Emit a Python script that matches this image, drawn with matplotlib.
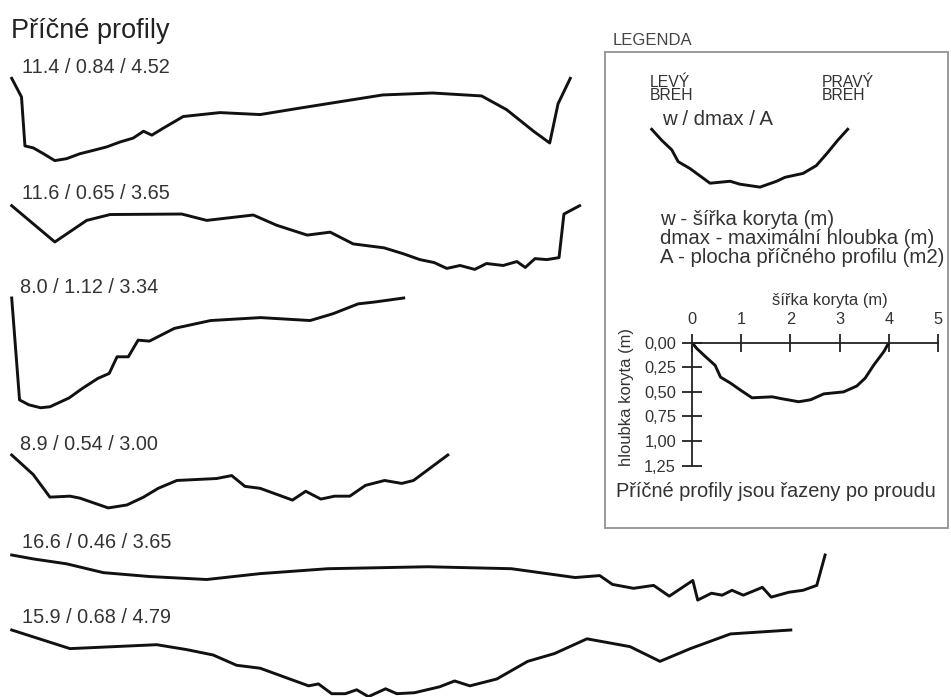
import matplotlib
matplotlib.use("Agg")
import matplotlib.pyplot as plt
from matplotlib.patches import Rectangle

plt.rcParams['font.family'] = ['Liberation Sans', 'DejaVu Sans']

# profile summaries: width (m), max depth (m), area (m2)
labels = ["11.4 / 0.84 / 4.52", "11.6 / 0.65 / 3.65", "8.0 / 1.12 / 3.34",
          "8.9 / 0.54 / 3.00", "16.6 / 0.46 / 3.65", "15.9 / 0.68 / 4.79"]
widths = [11.4, 11.6, 8.0, 8.9, 16.6, 15.9]
depths = [0.84, 0.65, 1.12, 0.54, 0.46, 0.68]

# distance from left bank (m) and depth below bank (m)
p1_x = [0, 0.20, 0.27, 0.44, 0.65, 0.88, 1.12, 1.39, 1.63, 1.94, 2.21, 2.48, 2.69, 2.86,
        3.09, 3.50, 4.25, 5.07, 5.93, 6.56, 7.57, 8.33, 8.59, 9.59, 10.10, 10.65, 10.98,
        11.15, 11.40]
p1_d = [0, 0.19, 0.69, 0.71, 0.77, 0.84, 0.82, 0.77, 0.74, 0.70, 0.65, 0.61, 0.54, 0.58,
        0.51, 0.39, 0.35, 0.37, 0.30, 0.25, 0.17, 0.155, 0.15, 0.18, 0.32, 0.54, 0.66,
        0.26, 0]

p2_x = [0, 0.88, 1.53, 2.01, 3.47, 3.98, 4.93, 5.41, 6.03, 6.50, 6.97, 7.60, 7.99, 8.33,
        8.62, 8.88, 9.15, 9.45, 9.69, 10.03, 10.31, 10.48, 10.68, 10.92, 11.17, 11.27, 11.59]
p2_d = [0, 0.37, 0.15, 0.09, 0.085, 0.15, 0.095, 0.20, 0.30, 0.27, 0.39, 0.43, 0.49, 0.55,
        0.58, 0.64, 0.61, 0.65, 0.59, 0.61, 0.57, 0.63, 0.54, 0.55, 0.53, 0.085, 0]

p3_x = [0, 0.16, 0.35, 0.59, 0.78, 1.17, 1.45, 1.76, 1.99, 2.15, 2.38, 2.58, 2.81, 3.32,
        4.06, 5.08, 6.09, 6.56, 7.07, 7.42, 8.0]
p3_d = [0, 1.04, 1.09, 1.12, 1.11, 1.02, 0.92, 0.82, 0.77, 0.60, 0.60, 0.43, 0.44, 0.31,
        0.23, 0.20, 0.23, 0.16, 0.06, 0.04, 0]

p4_x = [0, 0.44, 0.78, 1.19, 1.39, 1.97, 2.35, 2.69, 2.99, 3.37, 4.18, 4.49, 4.76, 5.07,
        5.73, 6.00, 6.31, 6.59, 6.90, 7.22, 7.61, 7.96, 8.20, 8.90]
p4_d = [0, 0.20, 0.43, 0.42, 0.44, 0.54, 0.51, 0.43, 0.34, 0.26, 0.24, 0.21, 0.32, 0.34,
        0.46, 0.37, 0.45, 0.42, 0.42, 0.31, 0.26, 0.29, 0.26, 0]

p5_x = [0, 0.44, 1.12, 1.87, 2.82, 3.98, 5.07, 6.45, 8.49, 10.2, 11.5, 12.0, 12.26, 12.69,
        13.1, 13.42, 13.9, 14.0, 14.28, 14.5, 14.7, 14.93, 15.32, 15.5, 15.86, 16.15, 16.43,
        16.6]
p5_d = [0, 0.04, 0.09, 0.18, 0.22, 0.25, 0.19, 0.14, 0.12, 0.14, 0.23, 0.21, 0.30, 0.34,
        0.31, 0.42, 0.26, 0.46, 0.39, 0.41, 0.36, 0.41, 0.33, 0.43, 0.38, 0.36, 0.31, 0]

p6_x = [0, 1.19, 2.96, 3.57, 4.11, 4.59, 5.07, 6.06, 6.26, 6.53, 6.81, 7.04, 7.28, 7.63,
        7.86, 8.22, 8.73, 9.04, 9.35, 9.90, 10.53, 11.08, 11.74, 12.62, 13.23, 13.85, 14.67,
        15.9]
p6_d = [0, 0.19, 0.15, 0.20, 0.255, 0.36, 0.39, 0.57, 0.55, 0.65, 0.65, 0.61, 0.68, 0.60,
        0.65, 0.64, 0.58, 0.52, 0.57, 0.50, 0.32, 0.24, 0.09, 0.17, 0.32, 0.19, 0.04, 0]

profiles_x = [p1_x, p2_x, p3_x, p4_x, p5_x, p6_x]
profiles_d = [p1_d, p2_d, p3_d, p4_d, p5_d, p6_d]

# legend sketch profile and the scaled example
sketch_x = [0, 0.20, 0.41, 0.54, 0.78, 1.19, 1.60, 1.80, 2.21, 2.55, 2.72, 3.09, 3.36,
            3.57, 3.80, 4.0]
sketch_d = [0, 0.11, 0.21, 0.33, 0.40, 0.55, 0.53, 0.56, 0.59, 0.53, 0.49, 0.45, 0.37,
            0.25, 0.11, 0]
example_x = [0, 0.10, 0.27, 0.47, 0.58, 0.78, 0.98, 1.22, 1.63, 1.83, 2.17, 2.41, 2.68,
             3.08, 3.35, 3.52, 3.69, 3.90, 4.0]
example_d = [0, 0.06, 0.14, 0.23, 0.35, 0.41, 0.48, 0.56, 0.55, 0.57, 0.60, 0.58, 0.52,
             0.50, 0.44, 0.36, 0.23, 0.09, 0]
width_ticks = [0, 1, 2, 3, 4, 5]
depth_ticks = [0, 0.25, 0.5, 0.75, 1.0, 1.25]

W, H = 951, 697
SX, SY = 49.0, 98.0  # pixels per metre (across, depth)
TXT = '#333333'

fig = plt.figure(figsize=(W / 100, H / 100), dpi=100)


def px_axes(left, top, wpx, hpx):
    return fig.add_axes([left / W, 1 - (top + hpx) / H, wpx / W, hpx / H])


def px_text(x, y, s, **kw):
    kw.setdefault('color', TXT)
    kw.setdefault('va', 'baseline')
    return fig.text(x / W, 1 - y / H, s, **kw)


fig.text(11 / W, 1 - 38 / H, "Příčné profily", fontsize=19.5, color='#222222', va='baseline')

tops = [78.3, 205.7, 298, 455, 555, 630]
label_x = [21.7, 21.7, 20, 20, 21.7, 21.7]
label_y = [72.7, 199.3, 293, 450, 548.3, 623.3]
for i in range(len(labels)):
    ax = px_axes(11.7, tops[i], widths[i] * SX, depths[i] * SY)
    ax.plot(profiles_x[i], profiles_d[i], color='#111111', lw=2.1, clip_on=False,
            solid_joinstyle='round')
    ax.set_xlim(0, widths[i])
    ax.set_ylim(depths[i], 0)
    ax.axis('off')
    px_text(label_x[i], label_y[i], labels[i], fontsize=14.3)

# legend box
px_text(613, 45, "LEGENDA", fontsize=12, color='#444444')
fig.patches.append(Rectangle((605 / W, 1 - 528 / H), (948 - 605) / W, (528 - 51.7) / H,
                             transform=fig.transFigure, fill=False, edgecolor='#9a9a9a',
                             lw=1.4))

px_text(650, 86.7, "LEVÝ", fontsize=11.3)
px_text(650, 100, "BREH", fontsize=11.3)
px_text(821.7, 86.7, "PRAVÝ", fontsize=11.3)
px_text(821.7, 100, "BREH", fontsize=11.3)
px_text(662, 125, "w / dmax / A", fontsize=14.7)

ax = px_axes(651.7, 129.3, 4.0 * SX, 0.59 * SY)
ax.plot(sketch_x, sketch_d, color='#111111', lw=2.1, clip_on=False, solid_joinstyle='round')
ax.set_xlim(0, 4.0)
ax.set_ylim(0.59, 0)
ax.axis('off')

px_text(660, 225, "w - šířka koryta (m)", fontsize=14.7)
px_text(660, 244, "dmax - maximální hloubka (m)", fontsize=14.7)
px_text(660, 262.7, "A - plocha příčného profilu (m2)", fontsize=14.7)

# scale example
ax = px_axes(692, 342.7, 5 * 49.2, 1.25 * 98.4)
ax.plot(example_x, example_d, color='#111111', lw=2.1, solid_joinstyle='round')
ax.set_xlim(0, 5)
ax.set_ylim(1.25, 0)
ax.patch.set_visible(False)
for side in ['right', 'bottom']:
    ax.spines[side].set_visible(False)
for side in ['top', 'left']:
    ax.spines[side].set_linewidth(1.3)
    ax.spines[side].set_color('#222222')
ax.set_xticks(width_ticks)
ax.set_xticklabels([str(t) for t in width_ticks])
ax.set_yticks(depth_ticks)
ax.set_yticklabels([f"{t:.2f}".replace('.', ',') for t in depth_ticks])
ax.tick_params(axis='x', top=True, bottom=False, labeltop=True, labelbottom=False,
               direction='inout', length=13, width=1.3, pad=5, labelsize=11.8,
               labelcolor=TXT, color='#222222')
ax.tick_params(axis='y', direction='inout', length=15, width=1.3, pad=4, labelsize=11.8,
               labelcolor=TXT, color='#222222')

px_text(772, 305, "šířka koryta (m)", fontsize=11.9)
px_text(627, 397, "hloubka koryta (m)", fontsize=11.9, rotation=90, ha='center', va='center')
px_text(616, 497, "Příčné profily jsou řazeny po proudu", fontsize=14.4)

fig.savefig("out.png", dpi=100)
